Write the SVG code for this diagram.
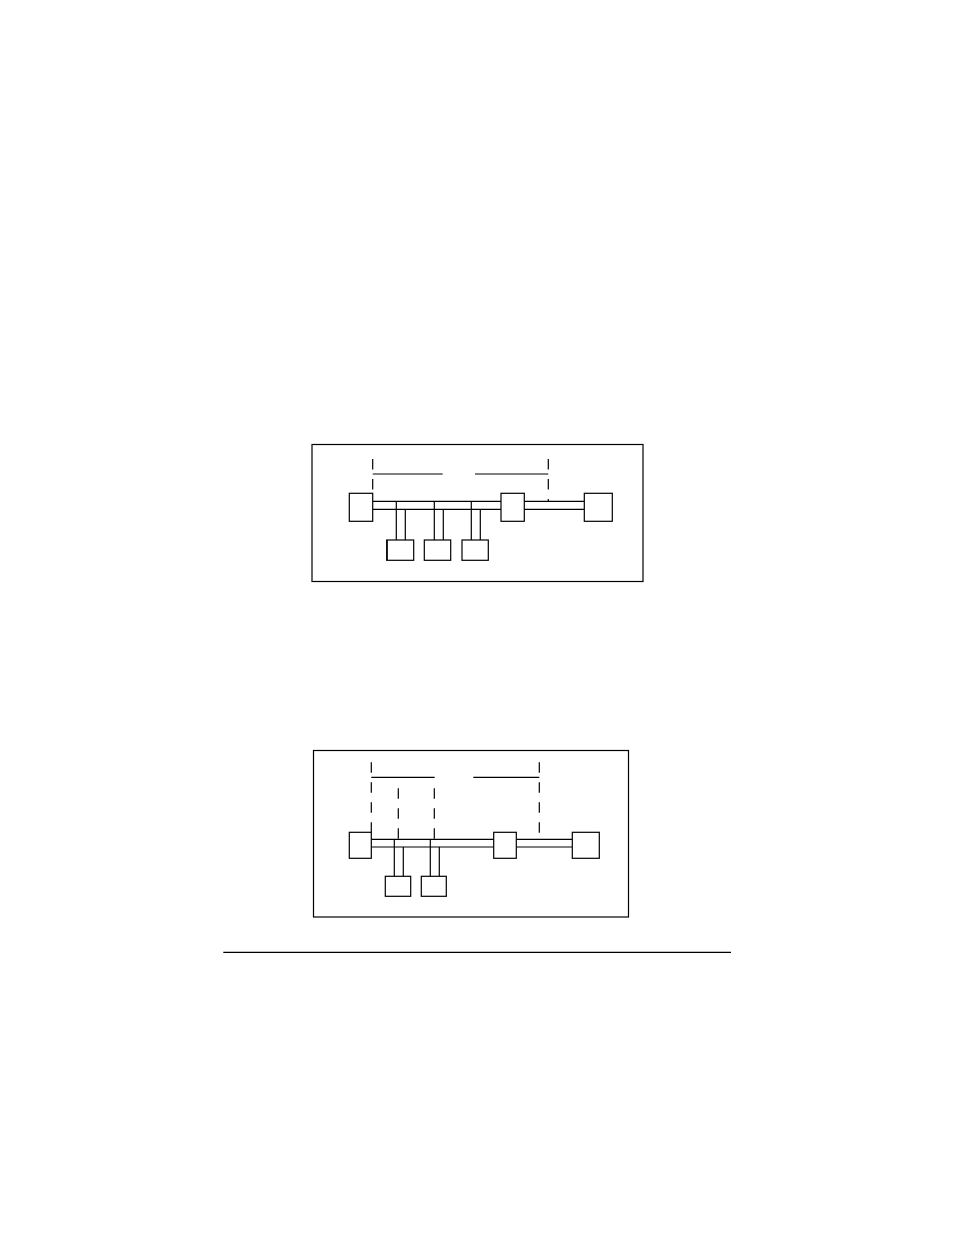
<svg xmlns="http://www.w3.org/2000/svg" width="954" height="1235" viewBox="0 0 954 1235">
<style>
.box{fill:#fff;stroke:#000;stroke-width:1.2}
.frame{fill:none;stroke:#000;stroke-width:1.2}
.ln{stroke:#000;stroke-width:1.2;fill:none}
.dash{stroke:#000;stroke-width:1.2;fill:none;stroke-dasharray:10.5 9.5}
</style>
<rect width="954" height="1235" fill="#fff"/>
<g id="diagram1">
<rect class="frame" x="312" y="444.5" width="331" height="137"/>
<g id="connectors1">
<line class="dash" x1="372.7" y1="459" x2="372.7" y2="493.5"/>
<line class="dash" x1="548.3" y1="459" x2="548.3" y2="501.3"/>
<line class="ln" x1="372.7" y1="474" x2="442.7" y2="474"/>
<line class="ln" x1="475" y1="474" x2="548.3" y2="474"/>
<line class="ln" x1="372.7" y1="501.3" x2="501" y2="501.3"/>
<line class="ln" x1="372.7" y1="509.3" x2="501" y2="509.3"/>
<line class="ln" x1="524.3" y1="501.3" x2="584.3" y2="501.3"/>
<line class="ln" x1="524.3" y1="509.3" x2="584.3" y2="509.3"/>
<line class="ln" x1="396.3" y1="501.3" x2="396.3" y2="540"/>
<line class="ln" x1="405.3" y1="509.3" x2="405.3" y2="540"/>
<line class="ln" x1="434.3" y1="501.3" x2="434.3" y2="540"/>
<line class="ln" x1="443.3" y1="509.3" x2="443.3" y2="540"/>
<line class="ln" x1="471.3" y1="501.3" x2="471.3" y2="540"/>
<line class="ln" x1="480.3" y1="509.3" x2="480.3" y2="540"/>
</g>
<g id="d1-left"><rect class="box" x="349.3" y="493.3" width="23.4" height="28"/></g>
<g id="d1-mid"><rect class="box" x="501" y="493.3" width="23.3" height="28"/></g>
<g id="d1-right"><rect class="box" x="584.3" y="493.3" width="28" height="28"/></g>
<g id="d1-s1"><rect class="box" x="386.7" y="540" width="27" height="20.3"/><line class="ln" x1="387.2" y1="540" x2="387.2" y2="560.3" stroke-width="1.8"/></g>
<g id="d1-s2"><rect class="box" x="424.3" y="540" width="26.4" height="20.3"/></g>
<g id="d1-s3"><rect class="box" x="462" y="540" width="26.3" height="20.3"/></g>
</g>
<g id="diagram2">
<rect class="frame" x="313.5" y="750.5" width="315" height="166.5"/>
<g id="connectors2">
<line class="dash" x1="371.3" y1="762.3" x2="371.3" y2="832.3"/>
<line class="dash" x1="539.3" y1="762.3" x2="539.3" y2="839.3"/>
<line class="dash" x1="398.3" y1="788.3" x2="398.3" y2="839.3"/>
<line class="dash" x1="434.3" y1="788.3" x2="434.3" y2="839.3"/>
<line class="ln" x1="371.3" y1="777.3" x2="434.7" y2="777.3"/>
<line class="ln" x1="473.3" y1="777.3" x2="539.3" y2="777.3"/>
<line class="ln" x1="371.3" y1="839.3" x2="493.7" y2="839.3"/>
<line class="ln" x1="371.3" y1="847" x2="493.7" y2="847"/>
<line class="ln" x1="516.3" y1="839.3" x2="572.3" y2="839.3"/>
<line class="ln" x1="516.3" y1="847" x2="572.3" y2="847"/>
<line class="ln" x1="394.3" y1="839.3" x2="394.3" y2="876.3"/>
<line class="ln" x1="403.3" y1="847" x2="403.3" y2="876.3"/>
<line class="ln" x1="430.3" y1="839.3" x2="430.3" y2="876.3"/>
<line class="ln" x1="439.3" y1="847" x2="439.3" y2="876.3"/>
</g>
<g id="d2-left"><rect class="box" x="349.3" y="832.3" width="22" height="26"/></g>
<g id="d2-mid"><rect class="box" x="493.7" y="832.3" width="22.6" height="26"/></g>
<g id="d2-right"><rect class="box" x="572.3" y="832.3" width="27" height="26"/></g>
<g id="d2-s1"><rect class="box" x="385.3" y="876.3" width="25.4" height="20"/></g>
<g id="d2-s2"><rect class="box" x="421.3" y="876.3" width="25" height="20"/></g>
</g>
<line class="ln" x1="223.3" y1="952.3" x2="731" y2="952.3"/>
</svg>
